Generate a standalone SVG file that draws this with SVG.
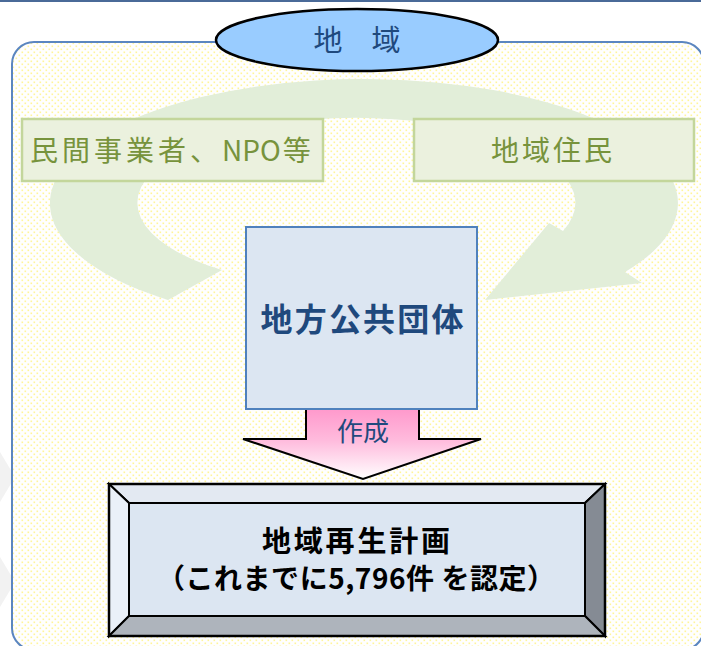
<svg xmlns="http://www.w3.org/2000/svg" width="701" height="646" viewBox="0 0 701 646">
<defs>
  <pattern id="dots" width="6" height="6" patternUnits="userSpaceOnUse">
    <rect width="6" height="6" fill="#ffffff"/>
    <rect x="0.5" y="0.5" width="1.6" height="1.6" fill="#fff59a"/>
    <rect x="3.5" y="3.5" width="1.6" height="1.6" fill="#fff59a"/>
  </pattern>
  <linearGradient id="pink" x1="0" y1="0" x2="0" y2="1">
    <stop offset="0" stop-color="#ff99cc"/>
    <stop offset="0.45" stop-color="#ffbbdd"/>
    <stop offset="1" stop-color="#ffffff"/>
  </linearGradient>
  <style>
    .jp { font-family: "Noto Sans CJK JP", "Noto Sans", sans-serif; }
    .green { fill: #77933c; font-size: 28px; }
    .gbox { fill: #ebf1de; stroke: #c3d69b; stroke-width: 2.5; }
    .bev { stroke: #000000; stroke-width: 2; stroke-linejoin: miter; }
  </style>
</defs>

<!-- top rule -->
<line x1="0" y1="1" x2="701" y2="1" stroke="#4a6a98" stroke-width="2"/>

<!-- faint ghost chevrons at left edge -->
<polygon points="0,452 15,477 0,502" fill="#f2f2f2"/>
<polygon points="0,557 15,582 0,607" fill="#f2f2f2"/>

<!-- region frame -->
<rect x="12" y="42" width="692" height="608" rx="22" ry="22" fill="url(#dots)" stroke="#5b86c0" stroke-width="2"/>

<g id="connectors">
  <!-- circular arrow -->
  <path d="M168,300 A314,124 0 1 1 625,272 L642,283 L485,300 L549,223 L563,231 A219,85 0 1 0 222,270 Z" fill="#e2eed9"/>
  <!-- create arrow -->
  <g id="arrow-create">
    <polygon points="306,409 419,409 419,439 481,439 363,479 243,439 306,439" fill="url(#pink)" stroke="#000000" stroke-width="2" stroke-linejoin="miter"/>
    <text class="jp" x="363" y="441" font-size="26" fill="#1f497d" text-anchor="middle">作成</text>
  </g>
</g>

<g id="node-region">
  <ellipse cx="357" cy="40" rx="141" ry="31" fill="#99ccff" stroke="#000000" stroke-width="2.5"/>
  <text class="jp" x="357" y="51" font-size="29" fill="#1f497d" text-anchor="middle">地　域</text>
</g>

<g id="node-private">
  <rect class="gbox" x="22" y="119" width="301" height="62"/>
  <text class="jp green" x="30" y="161"><tspan letter-spacing="4">民間事業者、</tspan><tspan>NPO</tspan><tspan dx="2">等</tspan></text>
</g>

<g id="node-residents">
  <rect class="gbox" x="414" y="119" width="280" height="62"/>
  <text class="jp green" x="491" y="161" letter-spacing="3">地域住民</text>
</g>

<g id="node-local-gov">
  <rect x="246" y="227" width="231" height="182" fill="#dce6f2" stroke="#4f81bd" stroke-width="2"/>
  <text class="jp" x="362" y="331" font-size="32" font-weight="bold" fill="#1f497d" text-anchor="middle" textLength="203" lengthAdjust="spacing">地方公共団体</text>
</g>

<g id="node-plan">
  <polygon class="bev" points="109,484 605,484 585,503 129,503" fill="#e3e9f2"/>
  <polygon class="bev" points="109,484 129,503 129,616 109,636" fill="#eaf0f8"/>
  <polygon class="bev" points="605,484 605,636 585,616 585,503" fill="#858b94"/>
  <polygon class="bev" points="109,636 129,616 585,616 605,636" fill="#aeb4bc"/>
  <rect class="bev" x="129" y="503" width="456" height="113" fill="#dce6f2"/>
  <rect x="109" y="484" width="496" height="152" fill="none" stroke="#000000" stroke-width="2.5"/>
  <text class="jp" x="356" y="552" font-size="29" font-weight="bold" fill="#000000" text-anchor="middle" textLength="188" lengthAdjust="spacing">地域再生計画</text>
  <text class="jp" x="356" y="589" font-size="28" font-weight="bold" fill="#000000" text-anchor="middle" textLength="398" lengthAdjust="spacing">（これまでに5,796件 を認定）</text>
</g>
</svg>
